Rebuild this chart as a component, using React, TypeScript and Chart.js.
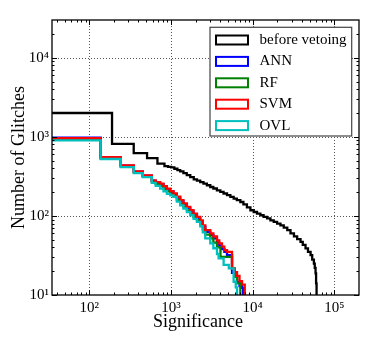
import React, { useEffect, useRef } from 'react';
import { Chart, registerables } from 'chart.js';

Chart.register(...registerables);

// ---- data ----
const seriesLabels = ['before vetoing', 'ANN', 'RF', 'SVM', 'OVL'];
const seriesColors = ['#000000', '#0000ff', '#008000', '#ff0000', '#00bfbf'];

const beforeSig = [35, 190, 350, 510, 683, 832, 920, 1005, 1100, 1200, 1297, 1420, 1560, 1722, 1900, 2080, 2281, 2500, 2750, 3027, 3300, 3650, 4017, 4400, 4850, 5333, 5850, 6400, 7066, 7700, 8500, 9376, 10300, 11300, 12420, 13600, 15000, 16480, 18100, 19900, 21870, 24000, 26500, 29020, 32000, 35000, 38500, 41000, 44330, 47500, 51100, 53500, 56100, 57500, 58800, 59700, 60500];
const beforeCount = [2000, 816, 622, 538, 458, 427, 418, 410, 395, 380, 366, 348, 328, 310, 290, 280, 268, 256, 244, 232, 222, 210, 201, 192, 183, 174, 165, 158, 150, 140, 128, 118, 112, 107, 102, 97, 93, 88, 84, 80, 76, 71, 66, 60, 55, 51, 47, 43, 38.8, 35, 32, 28, 25, 22, 18.8, 14, 10];

const annSig = [35, 138, 243, 351, 452, 583, 650, 736, 810, 891, 980, 1074, 1180, 1297, 1420, 1567, 1720, 1888, 2080, 2281, 2450, 2630, 3027, 3300, 3656, 3900, 4210, 4500, 4850, 5585, 6000, 6436, 6900, 7407, 7650];
const annCount = [975, 550, 432, 362, 322, 278, 264, 252, 234, 216, 202, 188, 171, 154, 140, 126, 114, 104, 94, 85, 73, 63, 57, 52, 46, 42, 38, 35, 32, 19, 17, 14.5, 13, 12.3, 10];

const rfSig = [35, 138, 243, 351, 452, 583, 650, 736, 810, 891, 980, 1074, 1180, 1297, 1420, 1567, 1720, 1888, 2080, 2281, 2450, 2630, 3027, 3300, 3656, 4036, 5585, 6000, 6436, 7062];
const rfCount = [940, 530, 420, 352, 314, 268, 252, 238, 220, 204, 190, 178, 160, 144, 130, 117, 106, 97, 88, 79, 68, 58, 52, 46, 40, 30.4, 21.7, 17, 14, 10];

const svmSig = [35, 138, 243, 351, 452, 583, 650, 736, 810, 891, 980, 1074, 1180, 1297, 1420, 1567, 1720, 1888, 2080, 2281, 2450, 2630, 3027, 3300, 3656, 3900, 4210, 4500, 4850, 5585, 6000, 6436, 6900, 7407, 8000];
const svmCount = [960, 555, 435, 366, 326, 282, 268, 256, 238, 221, 206, 192, 175, 158, 144, 130, 118, 107, 97, 88, 76, 66, 60, 55, 49, 45, 41, 37, 35, 21.7, 19.5, 17.5, 15, 13.5, 10];

const ovlSig = [35, 138, 243, 351, 452, 583, 650, 736, 810, 891, 980, 1074, 1180, 1297, 1420, 1567, 1720, 1888, 2080, 2281, 2450, 2630, 3027, 3300, 3656, 3828, 4408, 5100, 5842, 6200, 6436];
const ovlCount = [900, 524, 415, 348, 310, 262, 240, 221, 205, 190, 182, 174, 152, 136, 124, 112, 102, 92, 84, 74, 62, 52, 45, 39, 33, 29, 24, 21.7, 14.7, 12.5, 10];

const xTickValues = [100, 1000, 10000, 100000];
const xTickLabels = ['10\u00b2', '10\u00b3', '10\u2074', '10\u2075'];
const yTickValues = [10, 100, 1000, 10000];
const yTickLabels = ['10\u00b9', '10\u00b2', '10\u00b3', '10\u2074'];
const minorMultipliers = [2, 3, 4, 5, 6, 7, 8, 9];
const xDecades = [10, 100, 1000, 10000, 100000];
const yDecades = [10, 100, 1000, 10000];

const X_MIN = 35;
const X_MAX = 200000;
const Y_MIN = 10;
const Y_MAX = 30000;

const xTitle = 'Significance';
const yTitle = 'Number of Glitches';

const FONT = '"Liberation Serif", "DejaVu Serif", serif';

const toPoints = (xs: number[], ys: number[]) => xs.map((x, i) => ({ x, y: ys[i] }));

const decorPlugin = {
  id: 'decor',
  beforeDatasetsDraw(chart: any) {
    const { ctx, chartArea: a, scales } = chart;
    const x = scales.x;
    const y = scales.y;
    ctx.save();
    ctx.strokeStyle = '#555555';
    ctx.lineWidth = 1;
    ctx.setLineDash([1, 2]);
    for (const v of xTickValues) {
      const px = Math.round(x.getPixelForValue(v)) + 0.5;
      if (px <= a.left + 1 || px >= a.right - 1) continue;
      ctx.beginPath();
      ctx.moveTo(px, a.top);
      ctx.lineTo(px, a.bottom);
      ctx.stroke();
    }
    for (const v of yTickValues) {
      const py = Math.round(y.getPixelForValue(v)) + 0.5;
      if (py <= a.top + 1 || py >= a.bottom - 1) continue;
      ctx.beginPath();
      ctx.moveTo(a.left, py);
      ctx.lineTo(a.right, py);
      ctx.stroke();
    }
    ctx.restore();
  },
  afterDatasetsDraw(chart: any) {
    const { ctx, chartArea: a, scales } = chart;
    const x = scales.x;
    const y = scales.y;
    ctx.save();
    ctx.setLineDash([]);
    // frame
    ctx.strokeStyle = '#000';
    ctx.lineWidth = 1.3;
    ctx.strokeRect(a.left, a.top, a.right - a.left, a.bottom - a.top);
    // ticks (inward, all four sides)
    ctx.lineWidth = 1;
    const majorLen = 5;
    const minorLen = 2.5;
    const xt: { v: number; len: number }[] = [];
    for (const d of xDecades) {
      if (d >= X_MIN && d <= X_MAX) xt.push({ v: d, len: majorLen });
      for (const m of minorMultipliers) {
        const v = d * m;
        if (v > X_MIN && v < X_MAX) xt.push({ v, len: minorLen });
      }
    }
    for (const t of xt) {
      const px = Math.round(x.getPixelForValue(t.v)) + 0.5;
      ctx.beginPath();
      ctx.moveTo(px, a.bottom);
      ctx.lineTo(px, a.bottom - t.len);
      ctx.moveTo(px, a.top);
      ctx.lineTo(px, a.top + t.len);
      ctx.stroke();
    }
    const yt: { v: number; len: number }[] = [];
    for (const d of yDecades) {
      if (d >= Y_MIN && d <= Y_MAX) yt.push({ v: d, len: majorLen });
      for (const m of minorMultipliers) {
        const v = d * m;
        if (v > Y_MIN && v < Y_MAX) yt.push({ v, len: minorLen });
      }
    }
    for (const t of yt) {
      const py = Math.round(y.getPixelForValue(t.v)) + 0.5;
      ctx.beginPath();
      ctx.moveTo(a.left, py);
      ctx.lineTo(a.left + t.len, py);
      ctx.moveTo(a.right, py);
      ctx.lineTo(a.right - t.len, py);
      ctx.stroke();
    }
    // legend
    const bx = a.right - 149;
    const by = a.top + 7.3;
    const bw = 141.7;
    const bh = 108.7;
    ctx.fillStyle = '#ffffff';
    ctx.fillRect(bx, by, bw, bh);
    ctx.strokeStyle = '#444444';
    ctx.lineWidth = 1.2;
    ctx.strokeRect(bx, by, bw, bh);
    ctx.font = '15px ' + FONT;
    ctx.textBaseline = 'middle';
    ctx.textAlign = 'left';
    chart.data.datasets.forEach((ds: any, i: number) => {
      const cy = by + 12.7 + i * 21.4;
      ctx.strokeStyle = ds.borderColor;
      ctx.lineWidth = 2;
      ctx.strokeRect(bx + 6, cy - 4.5, 32, 9);
      ctx.fillStyle = '#000';
      ctx.fillText(ds.label, bx + 49.5, cy);
    });
    // x axis title
    ctx.font = '18px ' + FONT;
    ctx.fillStyle = '#000';
    ctx.textAlign = 'center';
    ctx.textBaseline = 'alphabetic';
    ctx.fillText(xTitle, 198, a.bottom + 32);
    ctx.restore();
  },
};

export default function App() {
  const ref = useRef<HTMLCanvasElement | null>(null);

  useEffect(() => {
    if (!ref.current) return;
    const mk = (i: number, xs: number[], ys: number[], order: number) => ({
      label: seriesLabels[i],
      data: toPoints(xs, ys),
      borderColor: seriesColors[i],
      backgroundColor: seriesColors[i],
      borderWidth: 2.3,
      pointRadius: 0,
      stepped: true,
      fill: false,
      order,
    });
    const chart = new Chart(ref.current, {
      type: 'line',
      data: {
        datasets: [
          mk(0, beforeSig, beforeCount, 5),
          mk(1, annSig, annCount, 4),
          mk(2, rfSig, rfCount, 3),
          mk(3, svmSig, svmCount, 2),
          mk(4, ovlSig, ovlCount, 1),
        ],
      },
      options: {
        animation: false,
        responsive: false,
        events: [],
        layout: { padding: { top: 20, right: 15, left: 0, bottom: 0 } },
        plugins: {
          legend: { display: false },
          tooltip: { enabled: false },
        },
        scales: {
          x: {
            type: 'logarithmic',
            min: X_MIN,
            max: X_MAX,
            afterBuildTicks: (s: any) => {
              s.ticks = xTickValues.map((v) => ({ value: v }));
            },
            afterFit: (s: any) => {
              s.height = 45;
            },
            grid: { display: false, drawTicks: false },
            border: { display: false },
            ticks: {
              autoSkip: false,
              maxRotation: 0,
              padding: 4,
              color: '#000',
              font: { family: FONT, size: 15 },
              callback: (v: any) => {
                const i = xTickValues.indexOf(Number(v));
                return i >= 0 ? xTickLabels[i] : '';
              },
            },
            title: { display: false },
          },
          y: {
            type: 'logarithmic',
            min: Y_MIN,
            max: Y_MAX,
            afterBuildTicks: (s: any) => {
              s.ticks = yTickValues.map((v) => ({ value: v }));
            },
            afterFit: (s: any) => {
              s.width = 52;
            },
            grid: { display: false, drawTicks: false },
            border: { display: false },
            ticks: {
              autoSkip: false,
              padding: 3,
              color: '#000',
              font: { family: FONT, size: 15 },
              callback: (v: any) => {
                const i = yTickValues.indexOf(Number(v));
                return i >= 0 ? yTickLabels[i] : '';
              },
            },
            title: {
              display: true,
              text: yTitle,
              color: '#000',
              font: { family: FONT, size: 18 },
              padding: { top: 8, bottom: 0 },
            },
          },
        },
      },
      plugins: [decorPlugin],
    } as any);
    return () => chart.destroy();
  }, []);

  return (
    <div style={{ position: 'fixed', left: 0, top: 0, width: 374, height: 340, background: '#fff' }}>
      <canvas ref={ref} width={374} height={340} style={{ display: 'block' }} />
    </div>
  );
}
